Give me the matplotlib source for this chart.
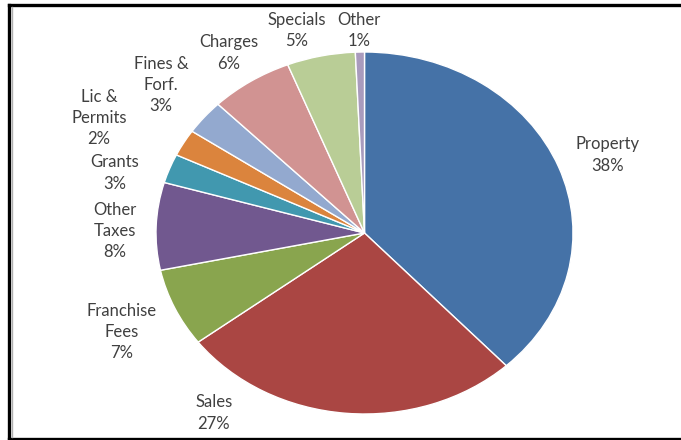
import matplotlib.pyplot as plt
from matplotlib.lines import Line2D

categories = ['Property', 'Sales', 'Franchise\nFees', 'Other\nTaxes', 'Grants',
              'Lic &\nPermits', 'Fines &\nForf.', 'Charges', 'Specials', 'Other']
shares = [38.1, 26.6, 7.0, 7.8, 2.6, 2.4, 3.1, 6.4, 5.3, 0.7]

colors = ['#4572A7', '#AA4643', '#89A54E', '#71588F', '#4198AF',
          '#DB843D', '#93A9CF', '#D19392', '#B9CD96', '#A99BBD']

# label centres in pie-radius units (Excel "best fit" placement)
label_pos = [(1.165, 0.431), (-0.722, -0.994), (-1.163, -0.547), (-1.197, 0.011),
             (-1.197, 0.331), (-1.273, 0.635), (-0.976, 0.818), (-0.650, 0.994),
             (-0.324, 1.119), (-0.026, 1.119)]

fig = plt.figure(figsize=(6.81, 4.40), dpi=100)
ax = fig.add_axes([156 / 681, 26 / 440, 417 / 681, 362 / 440])

wedges, _ = ax.pie(shares, colors=colors, startangle=90, counterclock=False,
                   wedgeprops=dict(edgecolor='white', linewidth=1.0))

# stretch the pie into the same ellipse as the original
ax.set_aspect('auto')
ax.set_xlim(-1, 1)
ax.set_ylim(-1, 1)
ax.axis('off')

for name, val, (x, y) in zip(categories, shares, label_pos):
    ax.text(x, y, f'{name}\n{round(val + 0.001)}%', ha='center', va='center',
            fontsize=12, family='Lato', color='#404040', linespacing=1.4)

# black frame around the picture (open on the right like the screenshot)
H = 440.0
W = 681.0
fig.add_artist(Line2D([9 / W, 1], [1 - 5 / H, 1 - 5 / H], color='black', lw=2.4,
                      transform=fig.transFigure))
fig.add_artist(Line2D([9 / W, 1], [1.5 / H, 1.5 / H], color='black', lw=2.4,
                      transform=fig.transFigure))
fig.add_artist(Line2D([9 / W, 9 / W], [1.5 / H, 1 - 5 / H], color='black', lw=2.4,
                      transform=fig.transFigure))
fig.add_artist(Line2D([11.8 / W, 11.8 / W], [3 / H, 1 - 7 / H], color='#b0b0b0', lw=1.0,
                      transform=fig.transFigure))

fig.savefig('out.png', dpi=100)
